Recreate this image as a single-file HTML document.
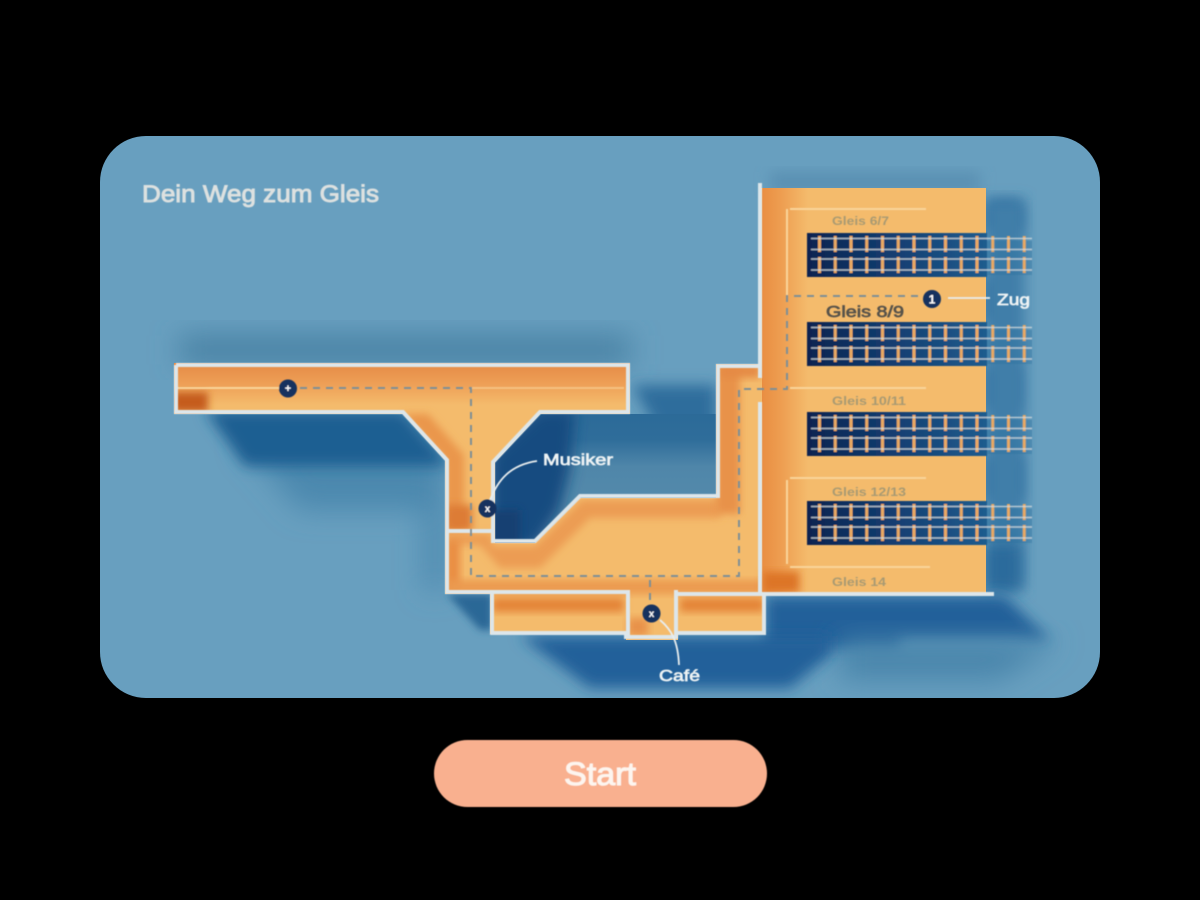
<!DOCTYPE html>
<html><head><meta charset="utf-8"><style>
html,body{margin:0;padding:0;background:#000;width:1200px;height:900px;overflow:hidden}
svg{display:block}
text{font-family:"Liberation Sans",sans-serif}
</style></head><body>
<svg width="1200" height="900" viewBox="0 0 1200 900" xmlns="http://www.w3.org/2000/svg">
<defs>
<clipPath id="card"><rect x="100" y="136" width="1000" height="562" rx="46"/></clipPath>
<clipPath id="floor"><path d="M174 363H630V414H540L495 462V543H535L580 498H716V364H760V188H986V594H765V634H678V640H626V634H490V594H445V460L403 414H174Z"/></clipPath>
<clipPath id="void"><path d="M495 462L540 414H716V498H580L535 543H495Z"/></clipPath>
<filter id="b20" x="-30%" y="-50%" width="160%" height="200%"><feGaussianBlur stdDeviation="14"/></filter>
<filter id="b8" x="-30%" y="-30%" width="160%" height="160%"><feGaussianBlur stdDeviation="7"/></filter>
<filter id="b4" x="-30%" y="-30%" width="160%" height="160%"><feGaussianBlur stdDeviation="4"/></filter>
<filter id="soft"><feGaussianBlur stdDeviation="0.5"/></filter>
<linearGradient id="fade" x1="0" x2="1" y1="0" y2="0"><stop offset="0" stop-color="#0a2350"/><stop offset=".5" stop-color="#143f72"/><stop offset="1" stop-color="#1f5c8e"/></linearGradient>
<linearGradient id="wallstrip" x1="0" x2="1" y1="0" y2="0"><stop offset="0" stop-color="#e98e42"/><stop offset=".45" stop-color="#ee9f52"/><stop offset="1" stop-color="#f4bb6c"/></linearGradient>
<linearGradient id="topstrip" x1="0" x2="0" y1="0" y2="1"><stop offset="0" stop-color="#e58a46"/><stop offset=".5" stop-color="#ee9f56"/><stop offset="1" stop-color="#f4bb6c"/></linearGradient>
<linearGradient id="voidg" x1="0" x2="0" y1="0" y2="1"><stop offset="0" stop-color="#2b6a98"/><stop offset=".22" stop-color="#2f6d9a"/><stop offset=".42" stop-color="#4f86a9"/><stop offset="1" stop-color="#5a8fae"/></linearGradient>
<g id="track">
<rect x="807" y="0" width="180" height="44" fill="url(#fade)"/>
<rect x="987" y="8" width="45" height="34" fill="#2c6d9d" opacity=".35"/>
<g fill="none">
<path d="M818 11H1032M818 32H1032" stroke="#e9a964" stroke-width="16" stroke-dasharray="3 12.75"/>
<path d="M811 5.500H1032M811 16.500H1032M811 26H1032M811 37H1032" stroke="#d3dadb" stroke-width="1.500" opacity=".8"/>
</g>
</g>
</defs>
<rect x="100" y="136" width="1000" height="562" rx="46" fill="#689fbf"/>
<g clip-path="url(#card)">
<rect x="180" y="335" width="450" height="30" fill="#4a82a4" filter="url(#b20)"/>
<rect x="770" y="172" width="210" height="20" fill="#5a90b2" filter="url(#b8)"/>
<path d="M240 440H445V590H425V510H300Z" fill="#4c88ae" filter="url(#b20)"/>
<path d="M205 410H403L445 460V466H245Z" fill="#1f5e92" filter="url(#b8)"/>
<path d="M632 385H716V470H680Z" fill="#2f6d9c" filter="url(#b8)"/>
<path d="M986 200H1022V232H986Z" fill="#2a6a9b" filter="url(#b8)"/>
<path d="M986 277H1004V322H986ZM986 366H1020V410H986ZM986 456H1022V500H986Z" fill="#2a6a9b" filter="url(#b8)"/>
<path d="M986 200H1025V590H986Z" fill="#3f7ea9" filter="url(#b8)"/>
<path d="M986 545H1020V590H986Z" fill="#2a6a9b" filter="url(#b8)"/>
<path d="M765 596H1005L1050 640H900V650H765Z" fill="#21619a" filter="url(#b8)"/>
<path d="M840 640H1060L1000 680H840Z" fill="#4a85ab" filter="url(#b20)"/>
<path d="M520 636H830V655L790 688H590Z" fill="#21609a" filter="url(#b8)"/>
<path d="M447 594H492V630H480Z" fill="#2a6896" filter="url(#b4)"/>
</g>
<g clip-path="url(#void)">
<rect x="490" y="410" width="230" height="135" fill="url(#voidg)"/>
<path d="M490 455L540 410H575L570 470L560 510L535 548H490Z" fill="#174b80" filter="url(#b8)"/>
<rect x="490" y="510" width="30" height="36" fill="#133f72" filter="url(#b4)"/>
</g>
<g clip-path="url(#floor)">
<rect x="170" y="180" width="830" height="470" fill="#f4bb6c"/>
<rect x="170" y="363" width="470" height="42" fill="url(#topstrip)"/>
<rect x="172" y="392" width="36" height="20" fill="#c55b1c" filter="url(#b4)"/>
<path d="M403 414L445 460V530H464V455L428 414Z" fill="#ea964c" filter="url(#b4)"/>
<rect x="446" y="505" width="26" height="26" fill="#dd7c34" filter="url(#b4)"/>
<path d="M446 534H492V546H535L582 500H720V518H590L540 568H500L480 545H446Z" fill="#ec9c52" filter="url(#b4)"/>
<rect x="446" y="540" width="14" height="52" fill="#e98c42" filter="url(#b4)"/>
<rect x="446" y="580" width="320" height="14" fill="#eb9a50" filter="url(#b4)"/>
<rect x="716" y="364" width="24" height="150" fill="#e8924a" filter="url(#b4)"/>
<rect x="720" y="364" width="40" height="14" fill="#e58a44" filter="url(#b4)"/>
<rect x="762" y="188" width="46" height="406" fill="url(#wallstrip)"/>
<rect x="763" y="572" width="36" height="20" fill="#dd7428" filter="url(#b4)"/>
<rect x="492" y="598" width="132" height="14" fill="#e48438" filter="url(#b4)"/>
<rect x="680" y="598" width="84" height="14" fill="#e48438" filter="url(#b4)"/>
<rect x="628" y="618" width="20" height="18" fill="#e8924a" filter="url(#b4)"/>
</g>
<g filter="url(#soft)">
<path d="M176 388H280M790 209H926M790 388H926M790 478H926M790 567H930M787 209V296M787 480V564" stroke="#f9d49a" stroke-width="2" fill="none"/>
<path d="M624 388H472" stroke="#f9d49a" stroke-width="2" opacity=".6"/>
<use href="#track" y="233"/><use href="#track" y="322"/><use href="#track" y="412"/><use href="#track" y="501"/>
<g fill="none" stroke="#dde6ea" stroke-width="4">
<path d="M176 365H628V412H540L493 462V541H535L580 496H718V366H760"/>
<path d="M176 365V412H403L447 460V592H492V633H626V637H676V633H764V596"/>
<path d="M447 592H628V596M676 592V594H992" stroke-linecap="square"/>
<path d="M447 531H492"/>
<path d="M760 183V378M760 402V594"/>
<path d="M628 592V637M676 592V637"/>
</g>
<g fill="none" stroke="#7e8f96" stroke-width="2" stroke-dasharray="7 6">
<path d="M300 388H471V576H739V389H787V296H925"/>
<path d="M650 580V605"/>
</g>
<g fill="none" stroke="#e8edee" stroke-width="1.800">
<path d="M537 461C510 465 498 480 490 500"/>
<path d="M660 620C672 630 678 642 679 665"/>
<path d="M948 298H990"/>
</g>
<g fill="#12305f">
<circle cx="288" cy="388.500" r="9"/><circle cx="487.500" cy="508.500" r="9"/><circle cx="651.500" cy="613.500" r="9"/><circle cx="932" cy="299" r="9"/>
</g>
<g fill="#fff" text-anchor="middle" font-weight="700">
<text x="288" y="392" font-size="11">+</text>
<text x="487.500" y="512" font-size="10">x</text>
<text x="651.500" y="617" font-size="10">x</text>
<text x="932" y="303.500" font-size="12">1</text>
</g>
<g fill="#eef3f4" stroke="#eef3f4" stroke-width=".7" font-size="16">
<text x="543" y="465" textLength="70" lengthAdjust="spacingAndGlyphs">Musiker</text>
<text x="659" y="681" textLength="41" lengthAdjust="spacingAndGlyphs">Café</text>
<text x="997" y="305" textLength="33" lengthAdjust="spacingAndGlyphs">Zug</text>
</g>
<text x="826" y="317" font-size="16" fill="#57524a" stroke="#57524a" stroke-width=".7" textLength="78" lengthAdjust="spacingAndGlyphs">Gleis 8/9</text>
<g font-size="12" font-weight="700" fill="#a89a72">
<text x="832" y="225" textLength="57" lengthAdjust="spacingAndGlyphs">Gleis 6/7</text>
<text x="832" y="405" textLength="74" lengthAdjust="spacingAndGlyphs">Gleis 10/11</text>
<text x="832" y="496" textLength="74" lengthAdjust="spacingAndGlyphs">Gleis 12/13</text>
<text x="832" y="586" textLength="54" lengthAdjust="spacingAndGlyphs">Gleis 14</text>
</g>
<text x="142" y="202" font-size="24" fill="#dde1e0" stroke="#dde1e0" stroke-width=".9" textLength="237" lengthAdjust="spacingAndGlyphs">Dein Weg zum Gleis</text>
<rect x="434" y="740" width="333" height="67" rx="33.500" fill="#f9b08f"/>
<text x="600" y="785" font-size="32" fill="#fdf5ef" stroke="#fdf5ef" stroke-width="1" text-anchor="middle" textLength="72" lengthAdjust="spacingAndGlyphs">Start</text>
</g>
</svg>
</body></html>
